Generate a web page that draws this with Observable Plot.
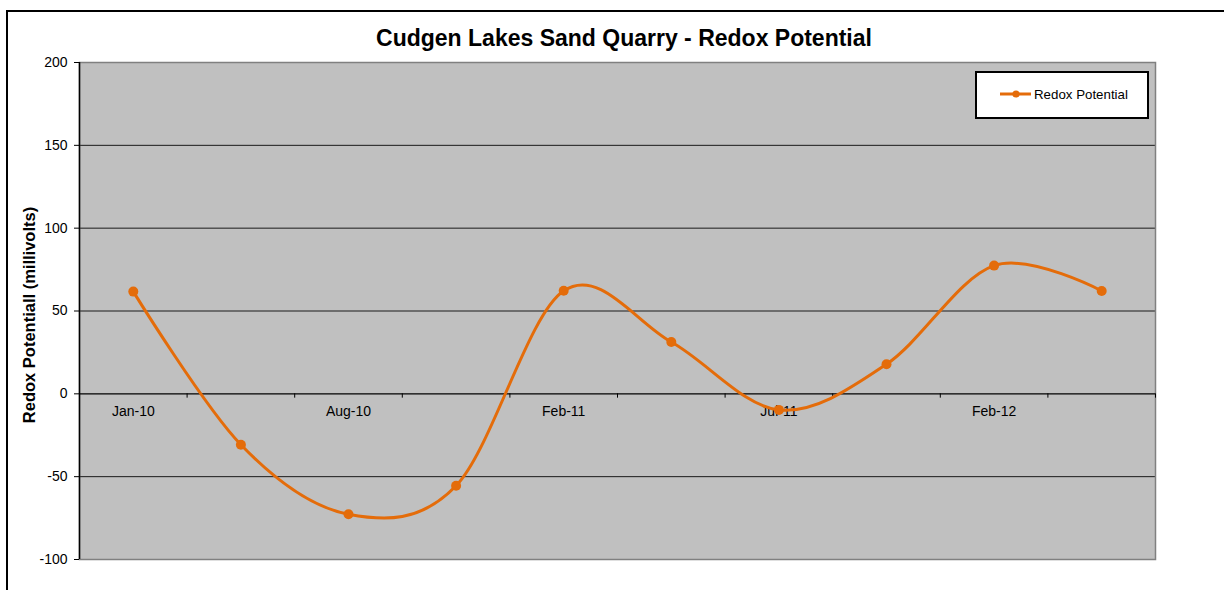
<!DOCTYPE html>
<html>
<head>
<meta charset="utf-8">
<script src="https://cdn.jsdelivr.net/npm/d3@7"></script>
<script src="https://cdn.jsdelivr.net/npm/@observablehq/plot@0.6"></script>
<style>
  html, body { margin: 0; padding: 0; background: #fff; }
  #wrap { position: relative; width: 1224px; height: 590px; overflow: hidden; font-family: "Liberation Sans", Arial, sans-serif; }
  #border { position: absolute; left: 6px; top: 10px; width: 1300px; height: 700px; border: 2px solid #000; box-sizing: border-box; }
  #chart { position: absolute; left: 0; top: 0; }
  #title { position: absolute; left: 0; top: 24px; width: 1248px; text-align: center; font-weight: bold; font-size: 23px; line-height: 28px; color: #000; }
  #ylabel { position: absolute; left: 29px; top: 315px; transform: translate(-50%, -50%) rotate(-90deg); white-space: nowrap; font-weight: bold; font-size: 16.5px; color: #000; }
  #legend { position: absolute; left: 975px; top: 71px; width: 174px; height: 48px; box-sizing: border-box; border: 2px solid #000; background: #fff; }
  #legend svg { position: absolute; left: 0; top: 0; }
  #legend span { position: absolute; left: 57px; top: 14px; font-size: 13.3px; line-height: 16px; color: #000; }
</style>
</head>
<body>
<div id="wrap">
  <div id="border"></div>
  <div id="chart"></div>
  <div id="title">Cudgen Lakes Sand Quarry - Redox Potential</div>
  <div id="ylabel">Redox Potentiall (millivolts)</div>
  <div id="legend"></div>
</div>
<script>
// ---- data ----
const categories = ["Jan-10", "Apr-10", "Aug-10", "Nov-10", "Feb-11", "Apr-11", "Jul-11", "Oct-11", "Feb-12", "May-12"];
const redoxPotential = [61.7, -30.7, -72.7, -55.5, 62.2, 31.3, -9.7, 17.9, 77.4, 62.1];
const shownLabels = ["Jan-10", "Aug-10", "Feb-11", "Jul-11", "Feb-12"];
const yTicks = [-100, -50, 0, 50, 100, 150, 200];
const seriesName = "Redox Potential";

const ORANGE = "#E46C0A";
const data = categories.map((c, i) => ({i, cat: c, v: redoxPotential[i]}));
const boundaries = categories.map((_, i) => i + 0.5);
const innerGrid = yTicks.filter(t => t !== 0 && t !== yTicks[0] && t !== yTicks[yTicks.length - 1]);

const chart = Plot.plot({
  width: 1224,
  height: 590,
  marginLeft: 79,
  marginRight: 69,
  marginTop: 62,
  marginBottom: 31,
  style: {background: "transparent", fontFamily: "'Liberation Sans', Arial, sans-serif", overflow: "visible"},
  x: {type: "linear", domain: [-0.5, categories.length - 0.5], axis: null},
  y: {type: "linear", domain: [yTicks[0], yTicks[yTicks.length - 1]], axis: null},
  marks: [
    Plot.frame({fill: "#C0C0C0", stroke: null}),
    Plot.gridY(innerGrid, {stroke: "#1a1a1a", strokeOpacity: 1, strokeWidth: 1}),
    Plot.frame({stroke: "#808080", strokeWidth: 1.5}),
    Plot.ruleY([0], {stroke: "#000", strokeWidth: 1.2}),
    Plot.ruleX([-0.5], {stroke: "#000", strokeWidth: 1.5}),
    Plot.ruleX(boundaries, {x: d => d, y1: 0, y2: -2.6, stroke: "#000", strokeWidth: 1}),
    Plot.axisY({ticks: yTicks, tickSize: 5, tickPadding: 7, fontSize: 14, stroke: "#000", color: "#000", label: null, tickFormat: d => String(d)}),
    Plot.text(data.filter(d => shownLabels.includes(d.cat)), {x: "i", y: 0, text: "cat", dy: 18, fontSize: 14, fill: "#000"}),
    Plot.line(data, {x: "i", y: "v", curve: "cardinal", tension: 0, stroke: ORANGE, strokeWidth: 3}),
    Plot.dot(data, {x: "i", y: "v", r: 5, fill: ORANGE, stroke: null})
  ]
});
document.getElementById("chart").appendChild(chart);

// legend
const leg = document.getElementById("legend");
leg.innerHTML = `<svg width="170" height="44"><line x1="23" x2="54" y1="21" y2="21" stroke="${ORANGE}" stroke-width="3"/><circle cx="39" cy="21" r="3.6" fill="${ORANGE}"/></svg><span>${seriesName}</span>`;
</script>
</body>
</html>
